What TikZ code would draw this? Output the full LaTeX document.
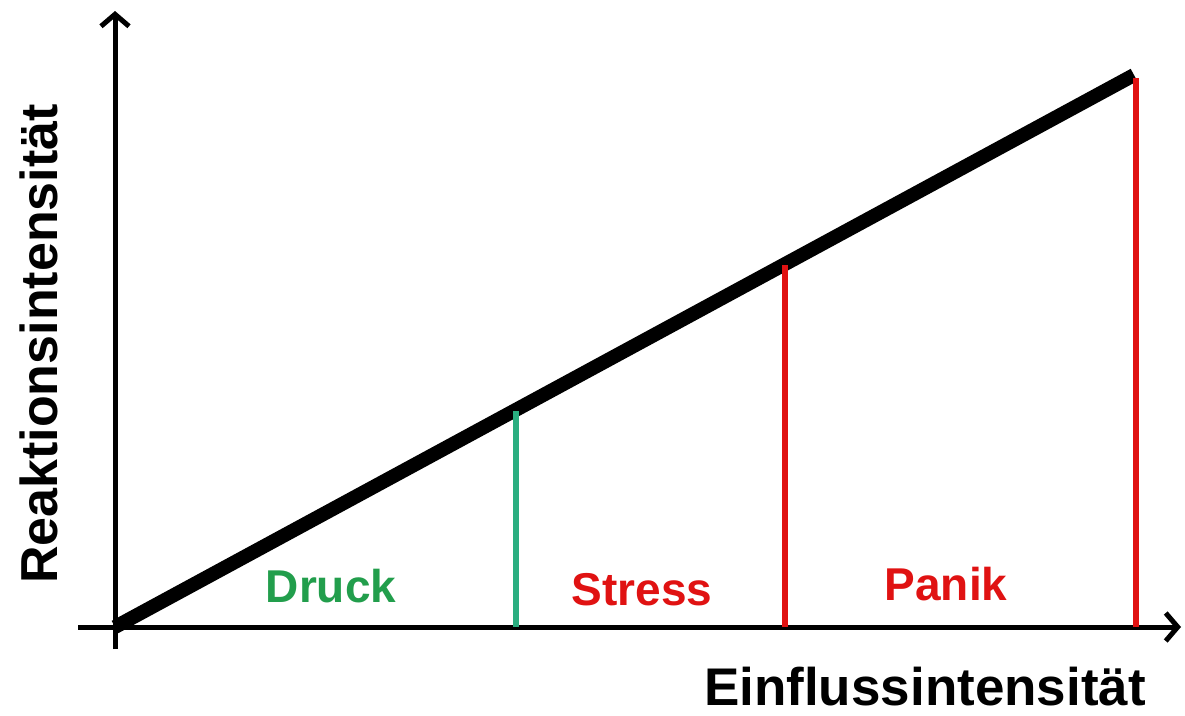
\documentclass[tikz,border=0pt]{standalone}
\usepackage{fontspec}
\setmainfont{Liberation Sans}
\usetikzlibrary{arrows.meta}
\definecolor{druckgreen}{RGB}{34,158,76}
\definecolor{tealline}{RGB}{42,174,128}
\definecolor{panicred}{RGB}{224,18,18}
\begin{document}
\begin{tikzpicture}[x=1pt,y=-1pt,
  axisline/.style={line width=5pt,-{Straight Barb[length=12pt,width=28pt,line width=5pt]}},
  mainline/.style={line width=14pt},
  markline/.style={line width=6pt},
  zonelabel/.style={font=\fontsize{46}{50}\selectfont\bfseries,anchor=base,inner sep=0pt},
  axislabel/.style={font=\fontsize{53}{60}\selectfont\bfseries,anchor=base,inner sep=0pt}]
\useasboundingbox[fill=white] (0,0) rectangle (1185,715);
% coordinates
\coordinate (O) at (115,627);
\coordinate (ytop) at (115,11);
\coordinate (ybot) at (115,649);
\coordinate (xl) at (78,627);
\coordinate (xr) at (1181,627);
\coordinate (lend) at (1134,75);
\coordinate (g0) at (516,627);
\coordinate (g1) at (516,411);
\coordinate (r0) at (785,627);
\coordinate (r1) at (785,265);
\coordinate (p0) at (1136,627);
\coordinate (p1) at (1136,78);
% axes
\draw[axisline] (ybot) -- (ytop);
\draw[axisline] (xl) -- (xr);
% main line
\draw[mainline] (O) -- (lend);
% markers
\draw[markline,tealline] (g0) -- (g1);
\draw[markline,panicred] (r0) -- (r1);
\draw[markline,panicred] (p0) -- (p1);
% labels
\node[zonelabel,text=druckgreen] (druck) at (331,602) {Druck};
\node[zonelabel,text=panicred] (stress) at (642,605) {Stress};
\node[zonelabel,text=panicred] (panik) at (946,600) {Panik};
\node[axislabel] (xlab) at (925,705) {Einflussintensität};
\node[axislabel,rotate=90,font=\fontsize{52}{60}\selectfont\bfseries] (ylab) at (57,344) {Reaktionsintensität};
\end{tikzpicture}
\end{document}
